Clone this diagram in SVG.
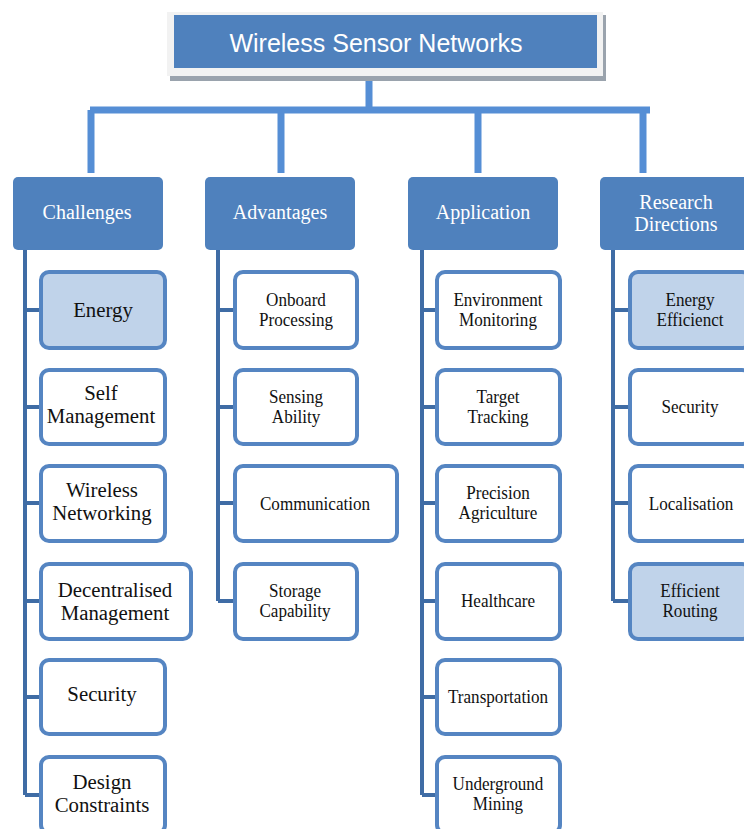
<svg xmlns="http://www.w3.org/2000/svg" width="744" height="829" viewBox="0 0 744 829">
<style>
.cat rect{fill:#4F81BD}
.cat text{font-family:"Liberation Serif","Times New Roman",serif;font-size:20px;fill:#FFFFFF;text-anchor:middle}
.child rect{fill:#FFFFFF;stroke:#5585C2;stroke-width:4}
.child.hl rect{fill:#C0D3EA}
.child text{font-family:"Liberation Serif","Times New Roman",serif;font-size:19px;fill:#111111;text-anchor:middle}
.ch text{font-size:20.8px}
.top{fill:none;stroke:#558ED5;stroke-width:7}
.sub{fill:none;stroke:#3F6CA5;stroke-width:4}
</style>
<rect width="744" height="829" fill="#FFFFFF"/>
<g id="connectors">
<path class="top" d="M369 80 V110 M90 110 H650 M91 110 V173 M281 110 V173 M478 110 V173 M643 110 V173"/>
<path class="sub" d="M25 250 V795 M25 310 H41 M25 407 H41 M25 503 H41 M25 601 H41 M25 697 H41 M25 795 H41"/>
<path class="sub" d="M218 250 V601 M218 310 H235 M218 407 H235 M218 503 H235 M218 601 H235"/>
<path class="sub" d="M422 250 V795 M422 310 H437 M422 407 H437 M422 503 H437 M422 601 H437 M422 697 H437 M422 795 H437"/>
<path class="sub" d="M613 250 V601 M613 310 H630 M613 407 H630 M613 503 H630 M613 601 H630"/>
</g>
<g id="root">
<rect x="170" y="15" width="436" height="66" fill="#9AA3AD"/>
<rect x="167" y="12" width="436" height="64" fill="#F2F2F2"/>
<rect x="174" y="15" width="423" height="53" fill="#4F81BD"/>
<text x="376" y="52" font-family="'Liberation Sans',Arial,sans-serif" font-size="25" fill="#FFFFFF" text-anchor="middle">Wireless Sensor Networks</text>
</g>
<g id="challenges" class="cat"><rect x="13" y="177" width="150" height="73" rx="5"/><text x="87" y="219">Challenges</text></g>
<g id="advantages" class="cat"><rect x="205" y="177" width="150" height="73" rx="5"/><text x="280" y="219">Advantages</text></g>
<g id="application" class="cat"><rect x="408" y="177" width="150" height="73" rx="5"/><text x="483" y="219">Application</text></g>
<g id="research" class="cat"><rect x="600" y="177" width="150" height="73" rx="5"/><text x="676" y="209">Research</text><text x="676" y="231">Directions</text></g>

<g id="energy" class="child ch hl"><rect x="41" y="272" width="124" height="76" rx="8"/><text x="103" y="317">Energy</text></g>
<g id="self-management" class="child ch"><rect x="41" y="370" width="124" height="74" rx="8"/><text x="101" y="400">Self</text><text x="101" y="423">Management</text></g>
<g id="wireless-networking" class="child ch"><rect x="41" y="466" width="124" height="75" rx="8"/><text x="102" y="497">Wireless</text><text x="102" y="520">Networking</text></g>
<g id="decentralised-management" class="child ch"><rect x="41" y="564" width="150" height="75" rx="8"/><text x="115" y="597">Decentralised</text><text x="115" y="620">Management</text></g>
<g id="security-c" class="child ch"><rect x="41" y="660" width="124" height="74" rx="8"/><text x="102" y="701">Security</text></g>
<g id="design-constraints" class="child ch"><rect x="41" y="757" width="124" height="76" rx="8"/><text x="102" y="789">Design</text><text x="102" y="812">Constraints</text></g>

<g id="onboard-processing" class="child"><rect x="235" y="272" width="122" height="76" rx="8"/><text transform="translate(296 306) scale(0.9 1)">Onboard</text><text transform="translate(296 326) scale(0.9 1)">Processing</text></g>
<g id="sensing-ability" class="child"><rect x="235" y="370" width="122" height="74" rx="8"/><text transform="translate(296 403) scale(0.9 1)">Sensing</text><text transform="translate(296 423) scale(0.9 1)">Ability</text></g>
<g id="communication" class="child"><rect x="235" y="466" width="162" height="75" rx="8"/><text transform="translate(315 510) scale(0.9 1)">Communication</text></g>
<g id="storage-capability" class="child"><rect x="235" y="564" width="122" height="75" rx="8"/><text transform="translate(295 597) scale(0.9 1)">Storage</text><text transform="translate(295 617) scale(0.9 1)">Capability</text></g>

<g id="environment-monitoring" class="child"><rect x="437" y="272" width="123" height="76" rx="8"/><text transform="translate(498 306) scale(0.9 1)">Environment</text><text transform="translate(498 326) scale(0.9 1)">Monitoring</text></g>
<g id="target-tracking" class="child"><rect x="437" y="370" width="123" height="74" rx="8"/><text transform="translate(498 403) scale(0.9 1)">Target</text><text transform="translate(498 423) scale(0.9 1)">Tracking</text></g>
<g id="precision-agriculture" class="child"><rect x="437" y="466" width="123" height="75" rx="8"/><text transform="translate(498 499) scale(0.9 1)">Precision</text><text transform="translate(498 519) scale(0.9 1)">Agriculture</text></g>
<g id="healthcare" class="child"><rect x="437" y="564" width="123" height="75" rx="8"/><text transform="translate(498 607) scale(0.9 1)">Healthcare</text></g>
<g id="transportation" class="child"><rect x="437" y="660" width="123" height="74" rx="8"/><text transform="translate(498 703) scale(0.9 1)">Transportation</text></g>
<g id="underground-mining" class="child"><rect x="437" y="757" width="123" height="76" rx="8"/><text transform="translate(498 790) scale(0.9 1)">Underground</text><text transform="translate(498 810) scale(0.9 1)">Mining</text></g>

<g id="energy-efficient" class="child hl"><rect x="630" y="272" width="120" height="76" rx="8"/><text transform="translate(690 306) scale(0.9 1)">Energy</text><text transform="translate(690 326) scale(0.9 1)">Efficienct</text></g>
<g id="security-r" class="child"><rect x="630" y="370" width="120" height="74" rx="8"/><text transform="translate(690 413) scale(0.9 1)">Security</text></g>
<g id="localisation" class="child"><rect x="630" y="466" width="120" height="75" rx="8"/><text transform="translate(691 510) scale(0.9 1)">Localisation</text></g>
<g id="efficient-routing" class="child hl"><rect x="630" y="564" width="120" height="75" rx="8"/><text transform="translate(690 597) scale(0.9 1)">Efficient</text><text transform="translate(690 617) scale(0.9 1)">Routing</text></g>
</svg>
